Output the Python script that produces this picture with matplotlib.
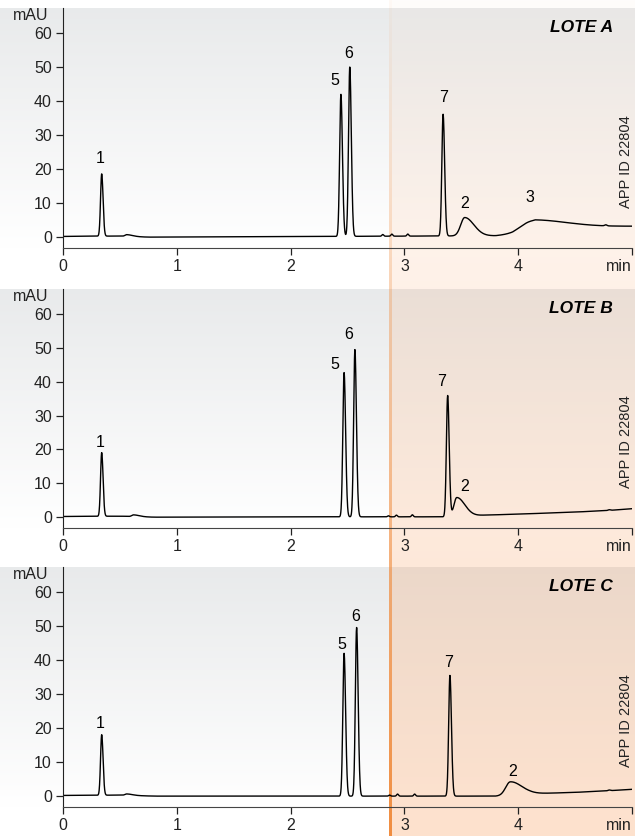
import numpy as np
import matplotlib
matplotlib.use('Agg')
import matplotlib.pyplot as plt

plt.rcParams['font.family'] = ['Liberation Sans', 'DejaVu Sans']
plt.rcParams['font.size'] = 11

# picos: tempo (min), altura (mAU), largura esquerda / direita
lote_a_tempos = [0.34, 0.56, 2.442, 2.52, 2.81, 2.89, 3.03, 3.34, 3.53, 4.11, 4.77]
lote_a_alturas = [18.3, 0.5, 41.8, 49.8, 0.5, 0.6, 0.6, 35.8, 5.4, 2.2, 0.3]
lote_a_esq = [0.010, 0.015, 0.011, 0.011, 0.008, 0.008, 0.008, 0.011, 0.035, 0.10, 0.01]
lote_a_dir = [0.012, 0.05, 0.0135, 0.0135, 0.008, 0.008, 0.008, 0.0135, 0.08, 0.30, 0.01]
lote_a_base_x = [0, 0.3, 0.5, 0.75, 2.3, 3.8, 3.95, 4.15, 4.5, 5.0]
lote_a_base_y = [0.2, 0.3, 0.3, 0.0, 0.2, 0.4, 0.9, 2.9, 3.05, 3.2]
lote_a_rotulos = ['1', '5', '6', '7', '2', '3']
lote_a_rot_x = [0.33, 2.39, 2.51, 3.34, 3.53, 4.10]
lote_a_rot_y = [23, 46, 54, 41, 10, 11.7]

lote_b_tempos = [0.34, 0.62, 2.47, 2.565, 2.86, 2.93, 3.07, 3.38, 3.46, 4.80]
lote_b_alturas = [18.8, 0.5, 42.6, 49.4, 0.3, 0.5, 0.6, 35.8, 5.6, 0.2]
lote_b_esq = [0.010, 0.015, 0.011, 0.011, 0.008, 0.008, 0.008, 0.011, 0.025, 0.01]
lote_b_dir = [0.012, 0.05, 0.0135, 0.0135, 0.008, 0.008, 0.008, 0.0135, 0.07, 0.01]
lote_b_base_x = [0, 0.5, 0.8, 2.3, 3.4, 3.7, 4.0, 4.5, 4.8, 5.0]
lote_b_base_y = [0.2, 0.3, 0.0, 0.1, 0.1, 0.6, 0.9, 1.5, 2.0, 2.5]
lote_b_rotulos = ['1', '5', '6', '7', '2']
lote_b_rot_x = [0.33, 2.39, 2.51, 3.33, 3.53]
lote_b_rot_y = [22, 45, 54, 40, 9]

lote_c_tempos = [0.34, 0.56, 2.47, 2.58, 2.87, 2.94, 3.09, 3.40, 3.93, 4.80]
lote_c_alturas = [17.8, 0.4, 42.0, 49.6, 0.3, 0.6, 0.6, 35.5, 3.9, 0.2]
lote_c_esq = [0.010, 0.015, 0.011, 0.011, 0.008, 0.008, 0.008, 0.011, 0.04, 0.01]
lote_c_dir = [0.012, 0.05, 0.0135, 0.0135, 0.008, 0.008, 0.008, 0.0135, 0.10, 0.01]
lote_c_base_x = [0, 0.5, 0.8, 3.8, 4.1, 4.5, 4.8, 5.0]
lote_c_base_y = [0.2, 0.3, 0.0, 0.0, 0.7, 1.1, 1.6, 2.0]
lote_c_rotulos = ['1', '5', '6', '7', '2']
lote_c_rot_x = [0.33, 2.45, 2.57, 3.39, 3.95]
lote_c_rot_y = [21.5, 44.7, 52.8, 39.3, 7.3]

nomes = ['LOTE A', 'LOTE B', 'LOTE C']
x_ticks = [0, 1, 2, 3, 4, 5]
x_labels = ['0', '1', '2', '3', '4', 'min']
y_ticks = [0, 10, 20, 30, 40, 50, 60]


def sinal(t, tempos, alturas, esq, dir_, bx, by):
    y = np.interp(t, bx, by)
    for t0, h, sl, sr in zip(tempos, alturas, esq, dir_):
        s = np.where(t < t0, sl, sr)
        y = y + h * np.exp(-(t - t0) ** 2 / (2 * s ** 2))
    return y


W, H = 635, 836
fig = plt.figure(figsize=(W / 100, H / 100), dpi=100)

# linhas (px) de cada painel: topo, base
paineis = [(8, 248), (289, 528), (567, 807)]
x0_px, x1_px = 63, 632

# fundo: gradiente cinza nos paineis + faixa laranja
yy, xx = np.mgrid[0:H, 0:W]
img = np.ones((H, W, 3))
topo_cinza = np.array([0.912, 0.918, 0.922])
for top, bot in paineis:
    m = (yy[:, 0] >= top) & (yy[:, 0] < bot)
    f = ((yy[:, 0] - top) / (bot - top))[:, None]
    cor = topo_cinza * (1 - f) + np.array([1.0, 1.0, 1.0]) * f
    img[m, :, :] = cor[m][:, None, :]

laranja = np.array([0.97, 0.55, 0.25])
fy = yy / H
a = np.where(xx >= 392, 0.02 + 0.24 * fy ** 0.8, 0.0)
img = img * (1 - a[..., None]) + laranja * a[..., None]
cor_linha = np.array([0.94, 0.54, 0.23])
al = np.where((xx >= 389) & (xx < 392), 0.05 + 0.92 * fy, 0.0)
img = img * (1 - al[..., None]) + cor_linha * al[..., None]
fig.figimage(img, xo=0, yo=0, origin='upper', zorder=-10)

t = np.linspace(0, 5, 4001)
dados = [
    (lote_a_tempos, lote_a_alturas, lote_a_esq, lote_a_dir, lote_a_base_x, lote_a_base_y,
     lote_a_rotulos, lote_a_rot_x, lote_a_rot_y),
    (lote_b_tempos, lote_b_alturas, lote_b_esq, lote_b_dir, lote_b_base_x, lote_b_base_y,
     lote_b_rotulos, lote_b_rot_x, lote_b_rot_y),
    (lote_c_tempos, lote_c_alturas, lote_c_esq, lote_c_dir, lote_c_base_x, lote_c_base_y,
     lote_c_rotulos, lote_c_rot_x, lote_c_rot_y),
]

for (top, bot), d, nome in zip(paineis, dados, nomes):
    tempos, alturas, esq, dir_, bx, by, rot, rx, ry = d
    ax = fig.add_axes([x0_px / W, 1 - bot / H, (x1_px - x0_px) / W, (bot - top) / H])
    ax.patch.set_alpha(0)
    ax.plot(t, sinal(t, tempos, alturas, esq, dir_, bx, by), color='black', lw=1.0)
    for r, x, y in zip(rot, rx, ry):
        ax.text(x, y, r, ha='center', va='center', fontsize=11.5)
    ax.set_xlim(0, 5)
    ax.set_ylim(-3.2, 67.4)
    ax.set_xticks(x_ticks)
    ax.set_xticklabels(x_labels)
    ax.get_xticklabels()[-1].set_horizontalalignment('right')
    ax.set_yticks(y_ticks)
    for s in ['top', 'right']:
        ax.spines[s].set_visible(False)
    ax.spines['left'].set_color('#222222')
    ax.spines['bottom'].set_color('#444444')
    ax.tick_params(axis='both', direction='out', length=5, width=0.9, labelsize=11.5,
                   colors='#222222', pad=3)
    ax.text(-0.025, 0.97, 'mAU', transform=ax.transAxes, ha='right', va='center',
            fontsize=11.5, color='#222222')
    ax.text(0.967, 0.917, nome, transform=ax.transAxes, ha='right', va='center',
            fontsize=12.5, fontweight='bold', fontstyle='italic')
    ax.text(0.989, 0.36, 'APP ID 22804', transform=ax.transAxes, rotation=90,
            ha='center', va='center', fontsize=10.5, color='#222222')

fig.savefig('out.png', dpi=100)
